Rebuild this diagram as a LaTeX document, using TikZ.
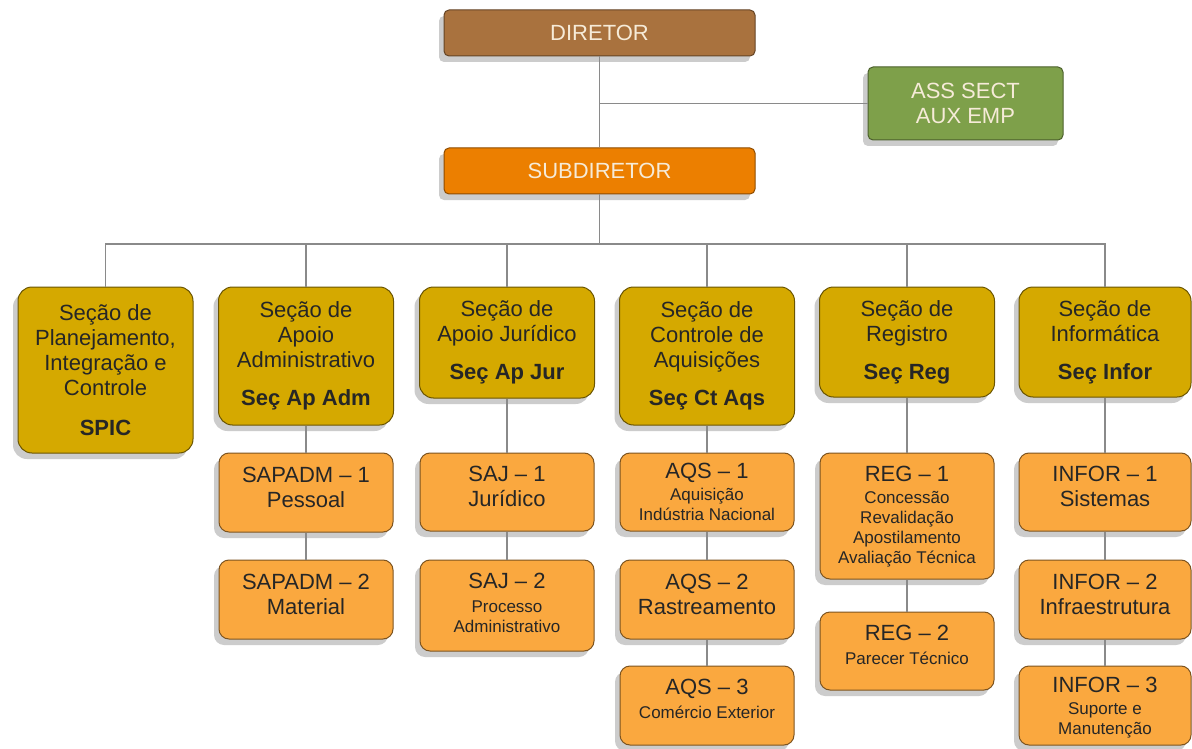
\documentclass[tikz,border=0pt]{standalone}
\usepackage{fontspec}
\setmainfont{Liberation Sans}
\usetikzlibrary{shadows}
\definecolor{dirbrown}{HTML}{A9723E}
\definecolor{subdorange}{HTML}{EC7F00}
\definecolor{assgreen}{HTML}{7EA04A}
\definecolor{secgold}{HTML}{D5A900}
\definecolor{subor}{HTML}{FAA83F}
\definecolor{toptext}{HTML}{F6EBD8}
\definecolor{linegray}{HTML}{8A8A8A}
\newcommand{\smallf}{\fontsize{17}{20}\selectfont}
\tikzset{
  base/.style={draw, line width=1pt, align=center, inner sep=0pt,
    drop shadow={shadow xshift=-5pt, shadow yshift=-6pt, fill=black!20, opacity=1}},
  topbox/.style={base, rounded corners=5pt, font=\fontsize{22}{25}\selectfont, text=toptext},
  secbox/.style={base, rounded corners=14pt, fill=secgold, draw=secgold!50!black,
    minimum width=175pt, font=\fontsize{22}{25}\selectfont, text=black!85},
  subbox/.style={base, rounded corners=10pt, fill=subor, draw=subor!50!black,
    minimum width=174pt, font=\fontsize{22}{25}\selectfont, text=black!85, text depth=11pt},
  conn/.style={draw=linegray, line width=1.3pt}
}
\begin{document}
\begin{tikzpicture}[x=1pt,y=-1pt]
\useasboundingbox[fill=white] (0,0) rectangle (1192,749);
% top
\node[topbox, fill=dirbrown, draw=dirbrown!60!black, minimum width=311pt, minimum height=46pt] (dir) at (599.5,33) {DIRETOR};
\node[topbox, fill=subdorange, draw=subdorange!60!black, minimum width=311pt, minimum height=46pt] (subd) at (599.5,171) {SUBDIRETOR};
\node[topbox, fill=assgreen, draw=assgreen!60!black, minimum width=195pt, minimum height=73pt] (ass) at (965.5,103.5) {ASS SECT\\AUX EMP};
% sections
\node[secbox, minimum height=166pt] (spic) at (105.5,370) {Seção de\\Planejamento,\\Integração e\\Controle\\[15pt]\textbf{SPIC}};
\node[secbox, minimum height=138pt] (adm) at (306,356) {Seção de\\Apoio\\Administrativo\\[13pt]\textbf{Seç Ap Adm}};
\node[secbox, minimum height=111pt] (jur) at (507,342.5) {Seção de\\Apoio Jurídico\\[13pt]\textbf{Seç Ap Jur}};
\node[secbox, minimum height=138pt] (aqs) at (707,356) {Seção de\\Controle de\\Aquisições\\[13pt]\textbf{Seç Ct Aqs}};
\node[secbox, minimum height=110pt] (reg) at (907,342) {Seção de\\Registro\\[13pt]\textbf{Seç Reg}};
\node[secbox, minimum height=110pt, minimum width=172pt] (inf) at (1105,342) {Seção de\\Informática\\[13pt]\textbf{Seç Infor}};
% sub units
\node[subbox, minimum height=79pt] (adm1) at (306,492.5) {SAPADM – 1\\Pessoal};
\node[subbox, minimum height=79pt] (adm2) at (306,599.5) {SAPADM – 2\\Material};
\node[subbox, minimum height=78pt] (jur1) at (507,492) {SAJ – 1\\Jurídico};
\node[subbox, minimum height=91pt, text depth=6pt] (jur2) at (507,605.5) {SAJ – 2\\[-1pt]\smallf Processo\\[-5pt]\smallf Administrativo};
\node[subbox, minimum height=78pt, text depth=0pt] (aqs1) at (707,492) {AQS – 1\\[-3pt]\smallf Aquisição\\[-5pt]\smallf Indústria Nacional};
\node[subbox, minimum height=79pt] (aqs2) at (707,599.5) {AQS – 2\\Rastreamento};
\node[subbox, minimum height=79pt, text depth=13pt] (aqs3) at (707,705.5) {AQS – 3\\[-1pt]\smallf Comércio Exterior};
\node[subbox, minimum height=126pt, text depth=2pt] (reg1) at (907,516) {REG – 1\\[-3pt]\smallf Concessão\\[-5pt]\smallf Revalidação\\[-5pt]\smallf Apostilamento\\[-5pt]\smallf Avaliação Técnica};
\node[subbox, minimum height=78pt, text depth=13pt] (reg2) at (907,651) {REG – 2\\[-1pt]\smallf Parecer Técnico};
\node[subbox, minimum height=78pt, minimum width=172pt] (inf1) at (1105,492) {INFOR – 1\\Sistemas};
\node[subbox, minimum height=79pt, minimum width=172pt] (inf2) at (1105,599.5) {INFOR – 2\\Infraestrutura};
\node[subbox, minimum height=79pt, minimum width=172pt, text depth=0pt] (inf3) at (1105,705.5) {INFOR – 3\\[-3pt]\smallf Suporte e\\[-5pt]\smallf Manutenção};
% connectors
\coordinate (bus) at (599.5,244);
\draw[conn] (dir.south) -- (subd.north);
\draw[conn] (ass.west) -- (ass.west -| dir.south);
\draw[conn] (subd.south) -- (bus);
\draw[conn] (spic.north) -- (spic.north |- bus) -- (inf.north |- bus) -- (inf.north);
\foreach \n in {adm,jur,aqs,reg} \draw[conn] (\n.north) -- (\n.north |- bus);
\draw[conn] (adm.south) -- (adm1.north);
\draw[conn] (adm1.south) -- (adm2.north);
\draw[conn] (jur.south) -- (jur1.north);
\draw[conn] (jur1.south) -- (jur2.north);
\draw[conn] (aqs.south) -- (aqs1.north);
\draw[conn] (aqs1.south) -- (aqs2.north);
\draw[conn] (aqs2.south) -- (aqs3.north);
\draw[conn] (reg.south) -- (reg1.north);
\draw[conn] (reg1.south) -- (reg2.north);
\draw[conn] (inf.south) -- (inf1.north);
\draw[conn] (inf1.south) -- (inf2.north);
\draw[conn] (inf2.south) -- (inf3.north);
\end{tikzpicture}
\end{document}
